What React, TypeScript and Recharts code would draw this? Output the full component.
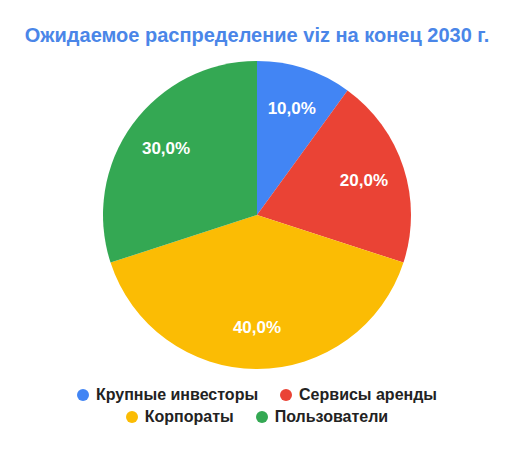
import { Cell, Legend, Pie, PieChart } from 'recharts';

const categories = ['Крупные инвесторы', 'Сервисы аренды', 'Корпораты', 'Пользователи'];
const shares = [10, 20, 40, 30];
const colors = ['#4285f4', '#ea4335', '#fbbc04', '#34a853'];

const data = categories.map((name, i) => ({ name, value: shares[i] }));

const RADIAN = Math.PI / 180;

function renderLabel(props: any) {
  const { cx, cy, midAngle, outerRadius, percent } = props;
  const r = outerRadius * 0.73;
  const x = cx + r * Math.cos(-midAngle * RADIAN);
  const y = cy + r * Math.sin(-midAngle * RADIAN);
  const text = `${(percent * 100).toFixed(1).replace('.', ',')}%`;
  return (
    <text
      x={x}
      y={y}
      fill="#ffffff"
      textAnchor="middle"
      dominantBaseline="central"
      fontSize={17}
      fontWeight="bold"
      fontFamily='"Liberation Sans", Arial, sans-serif'
    >
      {text}
    </text>
  );
}

function renderLegend() {
  return (
    <div
      style={{
        display: 'flex',
        flexWrap: 'wrap',
        justifyContent: 'center',
        width: 400,
        margin: '0 auto',
        rowGap: 2,
        columnGap: 22,
        fontSize: 16,
        fontWeight: 'bold',
        color: '#222222',
        fontFamily: '"Liberation Sans", Arial, sans-serif',
      }}
    >
      {categories.map((name, i) => (
        <div key={name} style={{ display: 'flex', alignItems: 'center', lineHeight: '20px' }}>
          <span
            style={{
              display: 'inline-block',
              width: 12,
              height: 12,
              borderRadius: '50%',
              background: colors[i],
              marginRight: 7,
            }}
          />
          {name}
        </div>
      ))}
    </div>
  );
}

export default function App() {
  return (
    <div
      style={{
        position: 'absolute',
        left: 0,
        top: 0,
        width: 514,
        height: 449,
        background: '#ffffff',
        fontFamily: '"Liberation Sans", Arial, sans-serif',
      }}
    >
      <div
        style={{
          position: 'absolute',
          top: 24,
          width: 514,
          textAlign: 'center',
          fontSize: 20,
          fontWeight: 'bold',
          color: '#4a86e8',
        }}
      >
        Ожидаемое распределение viz на конец 2030 г.
      </div>
      <PieChart width={514} height={449} margin={{ top: 0, right: 0, bottom: 0, left: 0 }}>
        <Pie
          data={data}
          dataKey="value"
          nameKey="name"
          cx={257}
          cy={215}
          outerRadius={154}
          startAngle={90}
          endAngle={-270}
          stroke="none"
          label={renderLabel}
          labelLine={false}
          isAnimationActive={false}
        >
          {data.map((d, i) => (
            <Cell key={d.name} fill={colors[i]} />
          ))}
        </Pie>
        <Legend
          content={renderLegend}
          wrapperStyle={{ position: 'absolute', top: 385, left: 0, width: 514 }}
        />
      </PieChart>
    </div>
  );
}
